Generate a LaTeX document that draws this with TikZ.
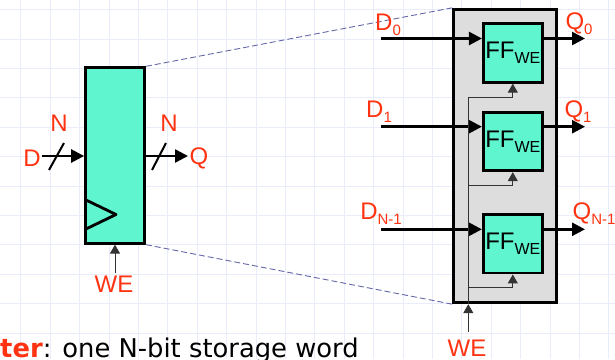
\documentclass[tikz,border=0pt]{standalone}
\usepackage{fontspec}
\setmainfont{Liberation Sans}
\newfontfamily\notefont{DejaVu Sans}
\usetikzlibrary{positioning,arrows.meta}
\definecolor{labelred}{HTML}{FF3311}
\definecolor{regfill}{HTML}{5EF5CF}
\definecolor{boxgray}{HTML}{DDDDDD}
\definecolor{gridblue}{HTML}{E8ECFB}
\definecolor{zoomblue}{HTML}{6668A8}
\newcommand{\lblsub}[2]{#1\raisebox{-5pt}{\fontsize{15}{15}\selectfont #2}}
\begin{document}
\begin{tikzpicture}[x=1pt,y=-1pt,
	lbl/.style={text=labelred,font=\fontsize{24}{24}\selectfont,inner sep=0},
	ffbox/.style={draw,line width=2.8pt,fill=regfill,minimum width=59pt,minimum height=58.5pt,inner sep=0},
	bigbus/.style={draw,line width=2.6pt,-{Triangle[length=13pt,width=13pt]}},
	clk/.style={draw=black!80,line width=1pt,-{Triangle[length=9pt,width=10pt]}},
	zoomline/.style={draw=zoomblue,line width=0.9pt,dash pattern=on 6pt off 3pt},
]
\useasboundingbox (0,0) rectangle (615,359);
\foreach \gx in {0,...,20} {
	\draw[gridblue,line width=0.6pt] (20.7+29.4*\gx,0) -- (20.7+29.4*\gx,359);
}
\foreach \gy in {0,...,12} {
	\draw[gridblue,line width=0.6pt] (0,9.5+29.4*\gy) -- (615,9.5+29.4*\gy);
}
% register symbol
\node[draw,line width=2.8pt,fill=regfill,minimum width=59pt,minimum height=175.5pt,inner sep=0] (reg) at (115,155.5) {};
\draw[line width=2.8pt,line join=round] (86,200) -- (116,214.5) -- (86,229);
\coordinate (din) at (42,156);
\coordinate (qend) at (188,156);
\coordinate (wein) at (115,273);
\draw[bigbus] (din) -- (din -| reg.west);
\draw[bigbus] (qend -| reg.east) -- (qend);
\draw[clk] (wein) -- (reg.south -| wein);
\draw[line width=2pt] (49,170) -- (64,143);
\draw[line width=2pt] (152,170) -- (166,143);
\node[lbl] (dlbl) at (32,158.5) {D};
\node[lbl] (qlbl) at (199,158.5) {Q};
\node[lbl] (nleft) at (59,123.5) {N};
\node[lbl] (nright) at (169,123.5) {N};
\node[lbl] (welbl) at (114,284) {WE};
% word made of flip-flops
\node[draw,line width=2.8pt,fill=boxgray,minimum width=103pt,minimum height=293.5pt,inner sep=0] (word) at (505,156) {};
\draw[zoomline] (reg.north east) -- (word.north west);
\draw[zoomline] (reg.south east) -- (word.south west);
\node[ffbox] (ff0) at (512.8,53) {};
\node[ffbox] (ff1) at (512.8,141.5) {};
\node[ffbox] (ff2) at (512.8,243.8) {};
\foreach \n in {0,1,2} {
	\node[inner sep=0,font=\fontsize{24}{24}\selectfont] (fftxt\n) at (ff\n) {\lblsub{FF}{\fontsize{16}{16}\selectfont WE}};
}
\coordinate (d0in) at (381,38.5);
\coordinate (d1in) at (381,126.7);
\coordinate (d2in) at (381,229.3);
\coordinate (q0end) at (585,38.5);
\coordinate (q1end) at (585,126.7);
\coordinate (q2end) at (585,229.3);
\foreach \n in {0,1,2} {
	\draw[bigbus] (d\n in) -- (d\n in -| ff\n.west);
	\draw[bigbus] (ff\n.east |- q\n end) -- (q\n end);
}
% write enable
\coordinate (wefoot) at (468.3,332);
\coordinate (wetop) at (468.3,97);
\coordinate (we1) at (468.3,185);
\coordinate (we2) at (468.3,287.7);
\draw[clk] (wefoot) -- (wefoot |- word.south);
\draw[black!80,line width=1pt] (wefoot |- word.south) -- (wetop);
\draw[clk] (wetop) -| (ff0.south);
\draw[clk] (we1) -| (ff1.south);
\draw[clk] (we2) -| (ff2.south);
\node[lbl] (d0lbl) at (388,25) {\lblsub{D}{0}};
\node[lbl] (d1lbl) at (379,112) {\lblsub{D}{1}};
\node[lbl] (d2lbl) at (381,214) {\lblsub{D}{N-1}};
\node[lbl] (q0lbl) at (579,24) {\lblsub{Q}{0}};
\node[lbl] (q1lbl) at (578,112) {\lblsub{Q}{1}};
\node[lbl] (q2lbl) at (594,214) {\lblsub{Q}{N-1}};
\node[lbl] (welbl2) at (467,348.5) {WE};
\node[inner sep=0,anchor=base west,font=\notefont\fontsize{25.8}{26}\selectfont] (note) at (0,357) {\textbf{\textcolor{labelred}{ter}}: one N-bit storage word};
\end{tikzpicture}
\end{document}
